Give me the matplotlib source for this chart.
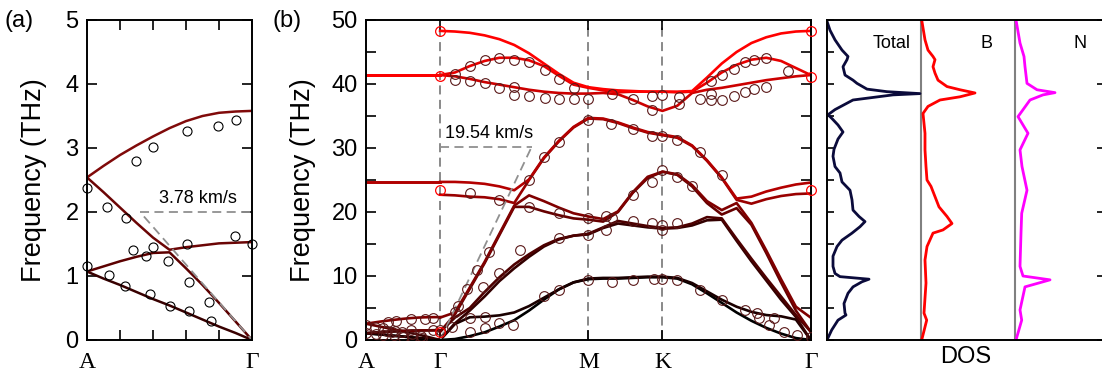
import numpy as np
import matplotlib.pyplot as plt
from matplotlib.ticker import MultipleLocator

plt.rcParams['font.family'] = ['Liberation Sans', 'DejaVu Sans']

# ---------------- panel (a): A-Gamma, low frequency ----------------
ka = [0.0, 0.1, 0.2, 0.3, 0.4, 0.5, 0.6, 0.7, 0.8, 0.9, 1.0]
a_up = [2.54, 2.72, 2.89, 3.04, 3.18, 3.31, 3.42, 3.50, 3.55, 3.57, 3.58]
a_down = [2.54, 2.31, 2.07, 1.83, 1.60, 1.37, 1.12, 0.86, 0.58, 0.29, 0.0]
a_mid = [1.07, 1.15, 1.23, 1.30, 1.36, 1.41, 1.45, 1.48, 1.51, 1.52, 1.53]
a_low = [1.07, 0.96, 0.86, 0.75, 0.64, 0.54, 0.43, 0.32, 0.21, 0.11, 0.0]

a_pts_k = [0.0, 0.0, 0.123, 0.133, 0.236, 0.232, 0.295, 0.281, 0.356, 0.382, 0.398, 0.402,
           0.491, 0.503, 0.604, 0.604, 0.620, 0.618, 0.737, 0.753, 0.796, 0.899, 0.903, 1.0]
a_pts_f = [2.38, 1.15, 2.08, 1.01, 1.90, 0.85, 2.79, 1.40, 1.31, 0.72, 1.46, 3.01,
           1.23, 0.53, 3.26, 1.50, 0.90, 0.46, 0.59, 0.29, 3.35, 1.63, 3.43, 1.50]

# ---------------- panel (b): full dispersion ----------------
# A-Gamma part reuses panel (a) curves; Gamma-M-K-Gamma below
kb = [0.5, 0.6, 0.7, 0.8, 0.9, 1.0, 1.1, 1.2, 1.3, 1.4, 1.5, 1.6, 1.7,
      1.8, 1.9, 2.0, 2.1, 2.2, 2.3, 2.4, 2.5, 2.6, 2.7, 2.8, 2.9, 3.0]
za = [0.0, 0.15, 0.6, 1.2, 2.1, 3.1, 4.6, 6.3, 7.9, 9.0, 9.5, 9.6, 9.6,
      9.7, 9.8, 9.8, 9.6, 8.7, 7.3, 5.8, 4.3, 3.0, 1.9, 1.0, 0.3, 0.0]
za2 = [3.5, 3.5, 3.55, 3.65, 3.85, 4.3, 5.3, 6.6, 7.9, 9.0, 9.6, 9.7, 9.7,
       9.8, 9.9, 9.9, 9.7, 8.9, 7.6, 6.3, 5.2, 4.4, 3.9, 3.7, 3.6, 3.5]
ta = [0.0, 2.5, 5.0, 7.5, 9.8, 11.8, 13.4, 14.8, 15.8, 16.3, 16.5, 17.5, 20.0,
      23.0, 25.3, 26.3, 25.8, 24.0, 21.4, 18.8, 15.5, 12.3, 9.3, 6.3, 3.2, 0.0]
ta2 = [1.3, 2.6, 4.6, 6.8, 9.2, 11.2, 13.0, 14.6, 15.7, 16.3, 16.6, 17.6, 20.1,
       23.1, 25.5, 26.3, 25.9, 24.2, 21.7, 19.0, 15.8, 12.7, 9.7, 6.8, 3.9, 1.3]
la = [0.0, 4.0, 8.0, 12.0, 16.4, 20.8, 25.0, 28.4, 31.0, 33.2, 34.6, 34.5, 33.9,
      33.1, 32.4, 32.0, 31.6, 30.3, 28.0, 25.3, 21.9, 18.0, 13.6, 9.0, 4.6, 0.0]
la2 = [1.3, 4.3, 8.2, 12.2, 16.6, 21.0, 25.1, 28.5, 31.1, 33.3, 34.7, 34.6, 34.0,
       33.2, 32.5, 32.1, 31.7, 30.4, 28.1, 25.4, 22.1, 18.3, 14.0, 9.5, 5.2, 1.3]
zo1 = [24.7, 24.7, 24.6, 24.4, 24.0, 23.4, 22.6, 21.7, 20.7, 19.8, 19.3, 18.9, 18.6,
       18.2, 17.8, 17.5, 17.6, 18.2, 19.2, 20.3, 21.4, 22.4, 23.2, 23.8, 24.3, 24.6]
zo2 = [22.7, 22.6, 22.4, 22.3, 22.0, 21.4, 20.8, 20.1, 19.5, 19.0, 18.8, 18.5, 18.2,
       17.9, 17.6, 17.4, 17.5, 17.9, 18.7, 19.6, 20.6, 21.3, 22.0, 22.5, 22.8, 22.9]
to2 = [41.4, 41.2, 40.8, 40.3, 39.9, 39.5, 39.1, 38.8, 38.6, 38.5, 38.5, 38.6, 38.7,
       38.8, 38.8, 38.8, 38.8, 38.9, 39.1, 39.4, 39.8, 40.2, 40.6, 40.9, 41.2, 41.4]
to1 = [41.4, 41.8, 42.8, 43.6, 44.1, 44.1, 43.7, 42.8, 41.3, 39.9, 39.4, 39.2, 39.0,
       38.9, 38.8, 38.8, 38.7, 38.8, 40.2, 41.8, 43.0, 43.8, 44.1, 43.6, 42.5, 41.4]
lo = [48.3, 48.2, 48.0, 47.6, 47.0, 46.1, 44.8, 43.2, 41.6, 40.2, 39.5, 39.0, 38.4,
      37.5, 36.5, 35.8, 36.6, 38.6, 41.0, 43.2, 45.0, 46.4, 47.3, 47.9, 48.2, 48.3]

ag_zo = [24.7] * 11
ag_to = [41.4] * 11

# measured points, panel (b)
b_pts_k = [0.60, 0.70, 0.80, 0.90, 1.00, 1.10, 1.21, 1.30, 1.40,
           0.60, 0.70, 0.80, 0.90, 1.00, 1.00, 1.10, 1.21, 1.30, 1.40, 1.50,
           1.66, 1.80, 1.93, 2.00, 1.93, 2.11, 2.11, 2.25, 2.33, 2.33, 2.33, 2.40, 2.40,
           2.48, 2.48, 2.56, 2.56, 2.62, 2.62, 2.70, 2.70, 2.85,
           0.62, 0.68, 0.75, 0.83, 1.10, 1.20, 1.30, 1.50, 1.65, 1.80, 1.93, 2.00, 2.10,
           2.25, 2.40,
           0.79, 0.90, 1.04, 1.30, 1.50, 1.62, 1.80, 1.93, 2.00, 2.10, 2.20,
           0.70, 0.90, 1.10, 1.30, 1.50, 1.62, 1.66, 1.80, 1.93, 2.00, 2.00, 2.10,
           0.60, 0.58, 0.70, 0.70, 0.80, 0.90, 0.80,
           0.99, 1.20, 1.30, 1.50, 1.66, 1.80, 1.94, 2.00, 2.10, 2.25,
           2.40, 2.56, 2.65, 2.72, 2.82, 2.91, 3.0, 2.64, 2.75]
b_pts_f = [41.6, 42.8, 43.75, 44.0, 43.75, 43.5, 42.2, 40.8, 39.3,
           40.7, 40.4, 40.1, 39.3, 39.5, 38.3, 38.1, 37.8, 37.7, 37.7, 37.7,
           38.4, 37.7, 38.1, 38.3, 35.9, 37.9, 36.9, 37.6, 40.5, 38.5, 37.5, 41.4, 37.5,
           42.4, 38.1, 43.5, 38.8, 43.75, 39.2, 44.0, 39.6, 42.0,
           5.3, 8.0, 11.0, 13.8, 25.0, 28.6, 31.0, 34.4, 33.75, 33.0, 31.8, 31.8, 31.25,
           29.3, 25.8,
           8.3, 10.4, 14.1, 15.9, 16.4, 17.2, 22.7, 24.7, 26.6, 25.5, 24.0,
           23.0, 21.9, 20.8, 19.8, 19.0, 19.3, 19.0, 18.65, 18.3, 18.0, 17.2, 18.3,
           4.4, 2.1, 3.4, 1.3, 1.8, 2.6, 3.6,
           2.3, 6.9, 7.8, 9.4, 9.1, 9.3, 9.6, 9.6, 9.4, 7.8,
           6.25, 4.7, 3.4, 2.3, 1.3, 0.8, 0.4, 4.2, 3.4]
b_red_k = [0.5, 0.5, 0.5, 0.5, 3.0, 3.0, 3.0]
b_red_f = [48.3, 41.2, 23.4, 1.3, 48.3, 41.1, 23.4]

vline_gamma_top = 48.3

# ---------------- DOS ----------------
tot_f = [0, 1.56, 3.1, 3.9, 4.2, 5.7, 7.3, 8.3, 9.1, 9.5, 9.9, 10.4, 11.5, 13.1, 14.6,
         15.6, 16.7, 17.7, 18.5, 19.3, 20.3, 21.9, 23.4, 24.7, 26.1, 27.1, 28.7, 29.8,
         31.4, 32.5, 33.6, 34.6, 35.2, 36.0, 37.5, 38.3, 38.5, 38.8, 39.2, 40.1, 40.6,
         41.4, 42.7, 43.8, 44.3, 45.3, 46.9, 48.4, 49.8]
tot_d = [0, 4.7, 11, 19, 18, 17, 21, 26, 35, 42, 13, 8, 6, 6, 10, 15, 25, 33, 38, 32,
         26, 25, 23, 15, 13, 8, 6, 7, 11, 16, 11, 5, 1, 8, 26, 66, 93, 60, 40, 30, 26,
         18, 16, 20, 21, 15, 8, 3, 0]
b_f = [0, 3.1, 4.2, 8.9, 12.5, 14.6, 16.7, 17.2, 18.2, 19.3, 20.8, 22.4, 24.0, 25.0,
       27.1, 29.7, 32.3, 35.4, 36.5, 37.5, 38.0, 38.6, 39.1, 39.6, 40.6, 41.7, 42.7,
       43.8, 44.3, 45.3, 46.9, 50]
b_d = [0.7, 5.7, 3, 5, 4, 6, 12, 22, 31, 26, 18, 14, 10, 6, 5, 4, 4, 2, 7, 19, 39, 54,
       39, 26, 17, 14, 12, 14, 12, 7, 4, 0.7]
n_f = [0, 3.1, 4.7, 8.3, 9.4, 10.0, 11.5, 16.7, 19.8, 23.4, 27.1, 29.7, 32.3, 34.9,
       37.5, 38.3, 38.65, 39.1, 40.1, 42.7, 44.3, 46.4, 50]
n_d = [1, 6.7, 5, 10, 35, 8, 5, 6, 6.7, 12, 7, 5, 13, 3, 15, 28, 40, 22, 12, 10, 9, 5, 1]

W, H = 1102, 372
fig = plt.figure(figsize=(W / 100, H / 100), dpi=100)


def band_color(i):
    return (i / 10.0, 0, 0)


def style_axes(ax):
    for s in ax.spines.values():
        s.set_linewidth(1.4)
    ax.tick_params(direction='in', which='both', top=True, right=True, width=1.2,
                   labelsize=17, pad=6)
    ax.tick_params(which='major', length=7)
    ax.tick_params(which='minor', length=5)


# ---- panel (a)
axa = fig.add_axes([87 / W, 32 / H, 165 / W, 320 / H])
a_bands = np.sort(np.array([a_low, a_down, a_mid, a_up]), axis=0)
a_cols = [(0.22, 0, 0), (0.36, 0, 0), (0.42, 0.02, 0.02), (0.5, 0.04, 0.04)]
for i, row in enumerate(a_bands):
    axa.plot(ka, row, color=a_cols[i], lw=1.8, zorder=2)
axa.plot(a_pts_k, a_pts_f, 'o', ms=6.5, mfc='none', mec='black', mew=0.8, zorder=3,
         clip_on=False)
axa.plot([0.345, 1.0], [1.93, 0.0], ls='--', color='#909090', lw=1.3, dashes=(5, 3))
axa.plot([0.32, 1.0], [2.0, 2.0], ls='--', color='#909090', lw=1.3, dashes=(5, 3))
axa.text(0.67, 2.08, '3.78 km/s', ha='center', va='bottom', fontsize=13)
axa.set_xlim(0, 1)
axa.set_ylim(0, 5)
style_axes(axa)
axa.set_xticks([0, 0.2, 0.4, 0.6, 0.8, 1.0])
axa.set_xticklabels(['A', '', '', '', '', 'Γ'], family='Liberation Serif', fontsize=17)
axa.tick_params(axis='x', pad=9)
axa.yaxis.set_major_locator(MultipleLocator(1))
axa.set_ylabel('Frequency (THz)', fontsize=19.5, labelpad=13)
fig.text(5 / W, 1 - 21 / H, '(a)', fontsize=17, va='center')

# ---- panel (b)
axb = fig.add_axes([366 / W, 32 / H, 444.7 / W, 320 / H])
kag = [k * 0.5 for k in ka]
ag_bands = np.sort(np.array([a_low, a_low, a_down, a_mid, a_mid, a_up,
                             ag_zo, ag_zo, ag_to, ag_to, ag_to]), axis=0)
gmkg_bands = np.sort(np.array([za, ta, la, za2, ta2, la2, zo2, zo1, to2, to1, lo]), axis=0)
for i in range(11):
    axb.plot(kag, ag_bands[i], color=band_color(i), lw=1.9, zorder=2)
    axb.plot(kb, gmkg_bands[i], color=band_color(i), lw=1.9, zorder=2)
axb.plot([k * 0.5 for k in a_pts_k], a_pts_f, 'o', ms=7, mfc='none', mec='#5a1818',
         mew=0.8, zorder=3)
axb.plot(b_pts_k, b_pts_f, 'o', ms=7, mfc='none', mec='#5a1818', mew=0.8, zorder=3)
axb.plot(b_red_k, b_red_f, 'o', ms=7, mfc='none', mec='red', mew=0.9, zorder=3,
         clip_on=False)
for xv, top in [(0.5, vline_gamma_top), (1.5, 50), (2.0, 50)]:
    axb.plot([xv, xv], [0, top], ls='--', color='#808080', lw=1.3, dashes=(5, 3), zorder=1)
axb.plot([0.5, 1.118], [0.0, 30.2], ls='--', color='#909090', lw=1.3, dashes=(5, 3))
axb.plot([0.5, 1.118], [30.2, 30.2], ls='--', color='#909090', lw=1.3, dashes=(5, 3))
axb.text(0.83, 31.0, '19.54 km/s', ha='center', va='bottom', fontsize=13)
axb.set_xlim(0, 3)
axb.set_ylim(0, 50)
style_axes(axb)
axb.set_xticks([0, 0.5, 1.5, 2.0, 3.0])
axb.set_xticklabels(['A', 'Γ', 'M', 'K', 'Γ'], family='Liberation Serif', fontsize=17)
axb.tick_params(axis='x', pad=9)
axb.yaxis.set_major_locator(MultipleLocator(10))
axb.yaxis.set_minor_locator(MultipleLocator(5))
axb.tick_params(which='minor', length=7)
axb.set_ylabel('Frequency (THz)', fontsize=19.5, labelpad=11)
fig.text(272 / W, 1 - 21 / H, '(b)', fontsize=17, va='center')

# ---- DOS panel
axd = fig.add_axes([827 / W, 32 / H, 277 / W, 320 / H])
offs = [0, 94, 188]
axd.axvline(offs[1], color='#808080', lw=1.5)
axd.axvline(offs[2], color='#808080', lw=1.5)
axd.plot([offs[0] + v for v in tot_d], tot_f, color='#0b0b3b', lw=2)
axd.plot([offs[1] + v for v in b_d], b_f, color='#ff0000', lw=2)
axd.plot([offs[2] + v for v in n_d], n_f, color='#ff00ff', lw=2)
for o, lab in zip(offs, ['Total', 'B', 'N']):
    axd.text(o + 65, 46.3, lab, ha='center', va='center', fontsize=13)
axd.set_xlim(0, 277)
axd.set_ylim(0, 50)
for s in axd.spines.values():
    s.set_linewidth(1.4)
axd.set_xticks([])
axd.yaxis.set_major_locator(MultipleLocator(10))
axd.yaxis.set_minor_locator(MultipleLocator(5))
axd.tick_params(axis='y', which='both', direction='in', left=True, right=True,
                labelleft=False, length=5, width=1.2)
axd.tick_params(axis='y', which='minor', right=False)
axd.set_xlabel('DOS', fontsize=17, labelpad=4)

fig.savefig('out.png', dpi=100)
